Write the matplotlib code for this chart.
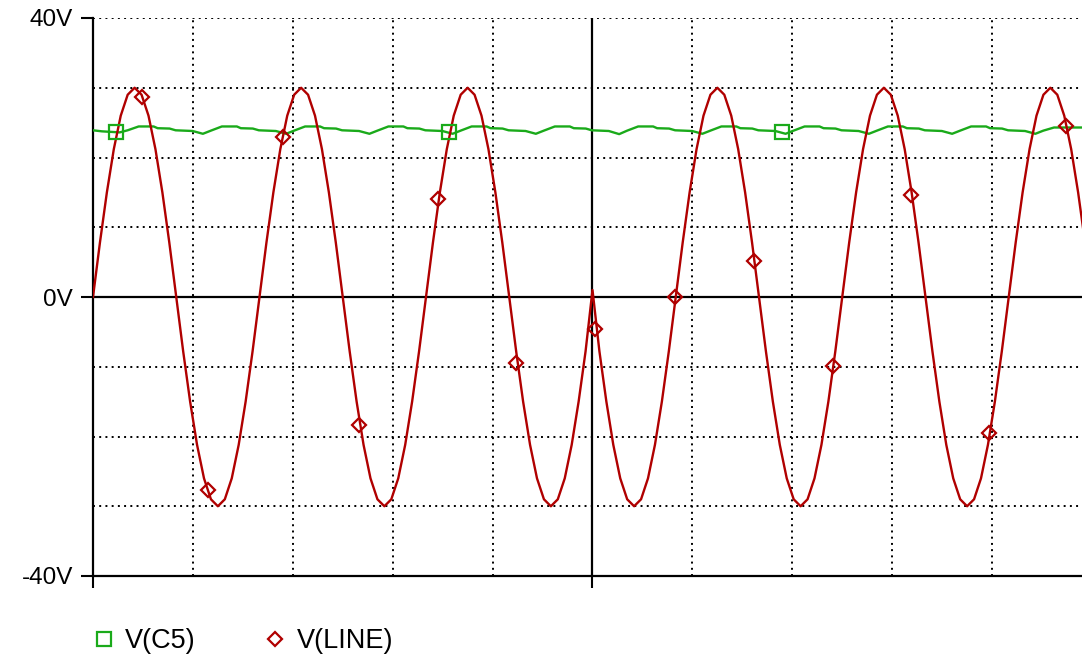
import numpy as np
import matplotlib
matplotlib.use("Agg")
import matplotlib.pyplot as plt
from matplotlib.lines import Line2D

plt.rcParams['font.family'] = ['Liberation Sans', 'DejaVu Sans']

# ===================== 数据 =====================
# V(LINE): 0 .. 100 ms, 145 samples (step 0.694 ms)
LINE_T = np.linspace(0, 100, 145)
LINE_V = [
    0, 7.8, 15, 21.2, 26, 29, 30, 29, 26, 21.2, 15, 7.8,
    0, -7.8, -15, -21.2, -26, -29, -30, -29, -26, -21.2, -15, -7.8,
    0, 7.8, 15, 21.2, 26, 29, 30, 29, 26, 21.2, 15, 7.8,
    0, -7.8, -15, -21.2, -26, -29, -30, -29, -26, -21.2, -15, -7.8,
    0, 7.8, 15, 21.2, 26, 29, 30, 29, 26, 21.2, 15, 7.8,
    0, -7.8, -15, -21.2, -26, -29, -30, -29, -26, -21.2, -15, -7.8,
    1.0,
    -7.8, -15, -21.2, -26, -29, -30, -29, -26, -21.2, -15, -7.8,
    0, 7.8, 15, 21.2, 26, 29, 30, 29, 26, 21.2, 15, 7.8,
    0, -7.8, -15, -21.2, -26, -29, -30, -29, -26, -21.2, -15, -7.8,
    0, 7.8, 15, 21.2, 26, 29, 30, 29, 26, 21.2, 15, 7.8,
    0, -7.8, -15, -21.2, -26, -29, -30, -29, -26, -21.2, -15, -7.8,
    0, 7.8, 15, 21.2, 26, 29, 30, 29, 26, 21.2, 15, 7.8,
    0,
]

# V(C5): ripple on the filter capacitor
C5_T = [
    0.0, 0.9, 2.67, 3.47, 4.57, 6.07, 6.47, 7.67, 8.27, 9.97,
    11.0, 11.8, 12.9, 14.4, 14.8, 16.0, 16.6, 18.3,
    19.33, 20.13, 21.23, 22.73, 23.13, 24.33, 24.93, 26.63,
    27.67, 28.47, 29.57, 31.07, 31.47, 32.67, 33.27, 34.97,
    36.0, 36.8, 37.9, 39.4, 39.8, 41.0, 41.6, 43.3,
    44.33, 45.13, 46.23, 47.73, 48.13, 49.33, 49.93, 51.63,
    52.67, 53.47, 54.57, 56.07, 56.47, 57.67, 58.27, 59.97,
    61.0, 61.8, 62.9, 64.4, 64.8, 66.0, 66.6, 68.3,
    69.33, 70.13, 71.23, 72.73, 73.13, 74.33, 74.93, 76.63,
    77.67, 78.47, 79.57, 81.07, 81.47, 82.67, 83.27, 84.97,
    86.0, 86.8, 87.9, 89.4, 89.8, 91.0, 91.6, 93.3,
    94.33, 95.13, 96.2, 100.0,
]
C5_V = [
    23.9, 23.75, 23.6, 23.9, 24.45, 24.45, 24.2, 24.15, 23.9, 23.8,
    23.4, 23.85, 24.45, 24.45, 24.2, 24.15, 23.9, 23.8,
    23.4, 23.85, 24.45, 24.45, 24.2, 24.15, 23.9, 23.8,
    23.4, 23.85, 24.45, 24.45, 24.2, 24.15, 23.9, 23.8,
    23.4, 23.85, 24.45, 24.45, 24.2, 24.15, 23.9, 23.8,
    23.4, 23.85, 24.45, 24.45, 24.2, 24.15, 23.9, 23.8,
    23.35, 23.85, 24.45, 24.45, 24.2, 24.15, 23.9, 23.8,
    23.4, 23.85, 24.45, 24.45, 24.2, 24.15, 23.9, 23.8,
    23.4, 23.85, 24.45, 24.45, 24.2, 24.15, 23.9, 23.8,
    23.4, 23.85, 24.45, 24.45, 24.2, 24.15, 23.9, 23.8,
    23.4, 23.85, 24.45, 24.45, 24.2, 24.15, 23.9, 23.8,
    23.4, 23.85, 24.3, 24.3,
]

# 标记点
C5_MARK_T = [2.3, 35.6, 68.97]
C5_MARK_V = [23.7, 23.6, 23.6]
LINE_MARK_T = [4.87, 11.48, 19.02, 26.6, 34.5, 42.3, 50.3, 58.3, 66.2, 74.1, 81.9, 89.7, 97.4]
LINE_MARK_V = [28.7, -27.6, 22.9, -18.4, 14.0, -9.5, -4.6, 0.0, 5.2, -9.9, 14.6, -19.5, 24.5]

Y_TICKS = [-40, 0, 40]
Y_LABELS = ["-40V", "0V", "40V"]

GREEN = '#1aaa1a'
RED = '#b00000'

# ===================== 绘图 =====================
fig = plt.figure(figsize=(10.82, 6.54), dpi=100)
ax = fig.add_axes([93 / 1082, 78 / 654, (1082 - 93) / 1082, 558 / 654])

dot = (0, (1, 2.2))
for gx in [10, 20, 30, 40, 60, 70, 80, 90]:
    ax.axvline(gx, color='black', lw=1.4, ls=dot, zorder=1)
for gy in [-30, -20, -10, 10, 20, 30, 40]:
    ax.axhline(gy, color='black', lw=1.4, ls=dot, zorder=1)
ax.axhline(0, color='black', lw=1.6, zorder=2)
ax.axvline(50, color='black', lw=1.6, zorder=2)

ax.plot(C5_T, C5_V, color=GREEN, lw=1.7, zorder=3)
ax.plot(LINE_T, LINE_V, color=RED, lw=1.7, zorder=4)
ax.plot(C5_MARK_T, C5_MARK_V, ls='none', marker='s', ms=9.5, mfc='none',
        mec=GREEN, mew=1.6, zorder=5)
ax.plot(LINE_MARK_T, LINE_MARK_V, ls='none', marker='D', ms=6.8, mfc='none',
        mec=RED, mew=1.6, zorder=5)

ax.set_xlim(0, 99.0)
ax.set_ylim(-40, 40)
ax.set_yticks(Y_TICKS)
ax.set_yticklabels(Y_LABELS, fontsize=17.5)
ax.set_xticks([0, 50])
ax.set_xticklabels([])
ax.tick_params(axis='both', direction='out', length=8.5, width=1.5, color='black', pad=6)
for side in ['top', 'right']:
    ax.spines[side].set_visible(False)
for side in ['left', 'bottom']:
    ax.spines[side].set_linewidth(1.6)

handles = [
    Line2D([], [], ls='none', marker='s', ms=9.5, mfc='none', mec=GREEN, mew=1.6),
    Line2D([], [], ls='none', marker='D', ms=6.8, mfc='none', mec=RED, mew=1.6),
]
fig.legend(handles, ["V(C5)", "V(LINE)"], loc='center left',
           bbox_to_anchor=(90 / 1082, 1 - 641 / 654), ncol=2, frameon=False,
           fontsize=19.5, handlelength=1.0, handletextpad=0.3, columnspacing=2.43,
           borderpad=0, borderaxespad=0)

fig.savefig("out.png", dpi=100)
plt.close(fig)
